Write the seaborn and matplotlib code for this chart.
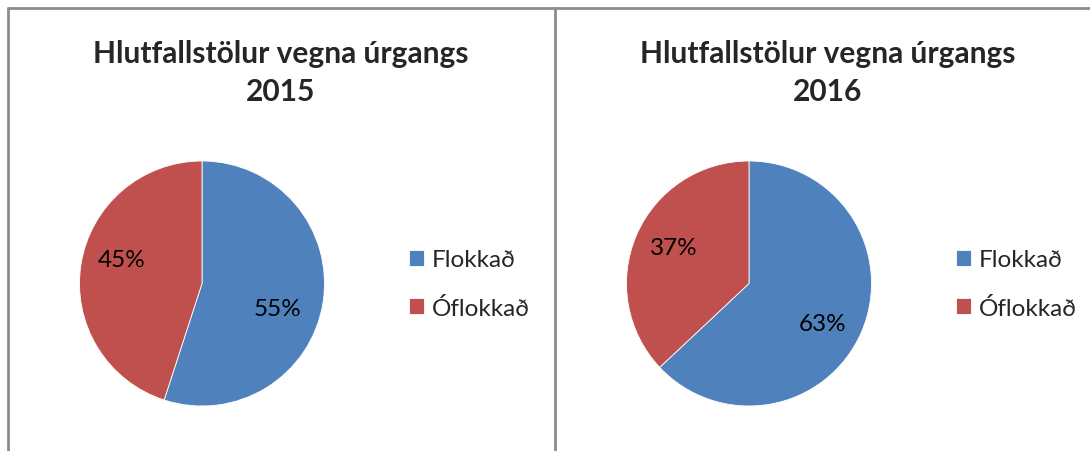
import numpy as np
import matplotlib
matplotlib.use("Agg")
import matplotlib.pyplot as plt
import seaborn as sns
from matplotlib.lines import Line2D

# data
categories = ["Flokkað", "Óflokkað"]
years = ["2015", "2016"]
share_2015 = [55, 45]
share_2016 = [63, 37]
title_text = "Hlutfallstölur vegna úrgangs"

# where Excel put the percent labels (angle in degrees, fraction of radius)
label_spots_2015 = [(-18.5, 0.65), (163.6, 0.68)]
label_spots_2016 = [(-28.4, 0.68), (154.7, 0.68)]

sns.set_theme(style="white")
plt.rcParams["font.family"] = ["Lato", "DejaVu Sans"]

colors = sns.color_palette(["#4F81BD", "#C0504D"])

W, H = 1090, 452
fig = plt.figure(figsize=(W / 100, H / 100), dpi=100)
fig.patch.set_facecolor("white")


def fx(x):
    return x / W


def fy(y):
    return 1 - y / H


# panel borders (the chart boxes)
border = dict(color="#8c8c8c", lw=2.0, transform=fig.transFigure)
fig.add_artist(Line2D([fx(7.5), 1], [fy(8.5), fy(8.5)], **border))
fig.add_artist(Line2D([fx(7.5), fx(7.5)], [fy(8.5), 0], **border))
fig.add_artist(Line2D([fx(554.5), fx(554.5)], [fy(8.5), 0], **border))

panels = [
    (share_2015, years[0], label_spots_2015, 0),
    (share_2016, years[1], label_spots_2016, 547),
]

r_px = 122.5
for shares, year, spots, off in panels:
    cx, cy = 202 + off, 284.5
    ax = fig.add_axes([fx(cx - r_px), fy(cy + r_px), 2 * r_px / W, 2 * r_px / H])
    wedges, texts, pcts = ax.pie(
        shares,
        colors=colors,
        startangle=90,
        counterclock=False,
        autopct="%1.0f%%",
        wedgeprops=dict(edgecolor="white", linewidth=0.6),
        textprops=dict(fontsize=17.5, color="black"),
    )
    ax.set_xlim(-1, 1)
    ax.set_ylim(-1, 1)
    for t, (ang, rr) in zip(pcts, spots):
        a = np.deg2rad(ang)
        t.set_position((rr * np.cos(a), rr * np.sin(a)))
        t.set_ha("center")
        t.set_va("center")

    fig.text(fx(281 + off), fy(73), f"{title_text}\n{year}", ha="center",
             va="center", fontsize=21.5, fontweight="bold", linespacing=1.42)

    fig.legend(wedges, categories, loc="center left",
               bbox_to_anchor=(fx(409 + off), fy(285)), frameon=False,
               fontsize=17.5, borderpad=0, borderaxespad=0,
               handlelength=0.62, handleheight=0.62, handletextpad=0.33,
               labelspacing=1.08)

fig.savefig("out.png", dpi=100, facecolor="white")
